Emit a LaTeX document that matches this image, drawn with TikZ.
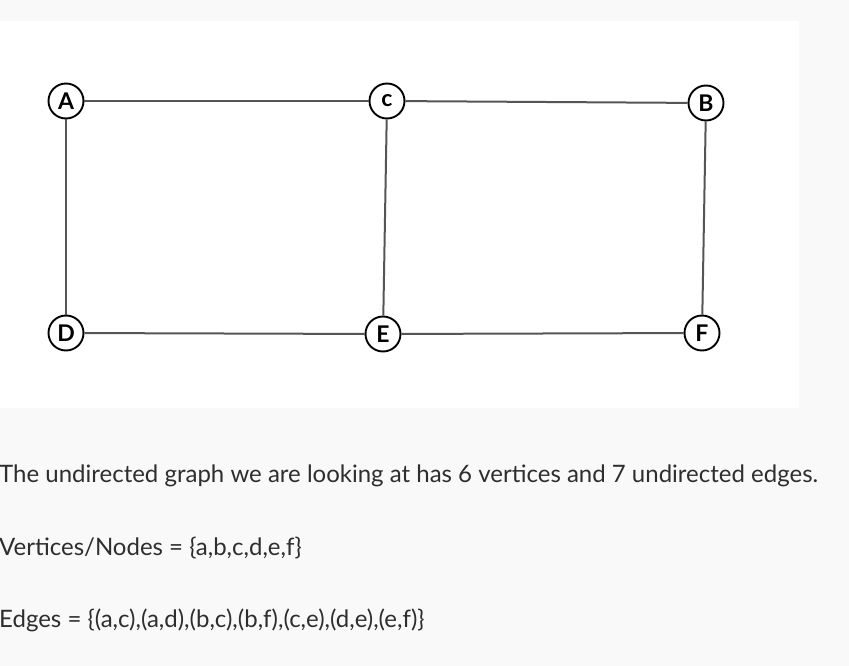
\documentclass[tikz,border=0pt]{standalone}
\usepackage{fontspec}
\setmainfont{Lato}
\definecolor{pagebg}{HTML}{F9F9F9}
\definecolor{edgegray}{HTML}{555555}
\definecolor{txtc}{HTML}{2E2E2E}
\begin{document}
\begin{tikzpicture}[x=1pt,y=-1pt,
  vtx/.style={circle,draw=black,line width=1.9pt,fill=white,minimum size=35pt,inner sep=0pt,
    font=\fontsize{23}{23}\selectfont\bfseries},
  edge/.style={draw=edgegray,line width=2pt},
  txt/.style={anchor=base west,inner sep=0pt,text=txtc,font=\fontsize{24}{28}\selectfont}]
\useasboundingbox (0,0) rectangle (849,666);
\fill[pagebg] (0,0) rectangle (849,666);
\fill[white] (0,21) rectangle (799,408);
\node[vtx] (a) at (66,101) {A};
\node[vtx] (c) at (387,101) {c};
\node[vtx] (b) at (706,103) {B};
\node[vtx] (d) at (66,333) {D};
\node[vtx] (e) at (383,334) {E};
\node[vtx] (f) at (702,333) {F};
\draw[edge] (a) -- (c);
\draw[edge] (c) -- (b);
\draw[edge] (a) -- (d);
\draw[edge] (b) -- (f);
\draw[edge] (c) -- (e);
\draw[edge] (d) -- (e);
\draw[edge] (e) -- (f);
\node[txt] (t1) at (-1,482) {The undirected graph we are looking at has 6 vertices and 7 undirected edges.};
\node[txt] (t2) at (-1,555) {Vertices/Nodes = \{a,b,c,d,e,f\}};
\node[txt] (t3) at (-1,627) {Edges = \{(a,c),(a,d),(b,c),(b,f),(c,e),(d,e),(e,f)\}};
\end{tikzpicture}
\end{document}
